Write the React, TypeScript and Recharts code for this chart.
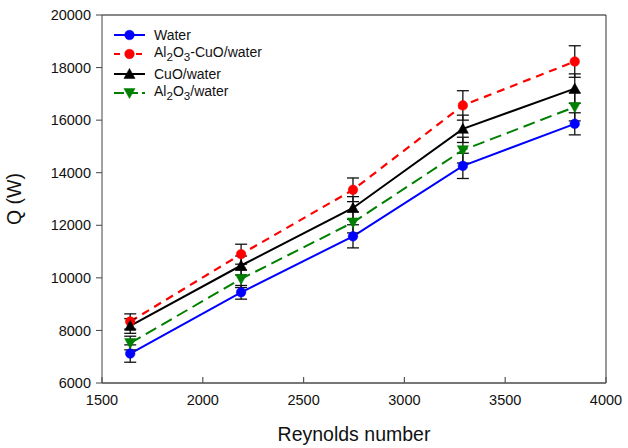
import React from 'react';
import {
  LineChart,
  Line,
  XAxis,
  YAxis,
  ErrorBar,
  ReferenceLine,
  Legend,
} from 'recharts';

// Reynolds numbers of the test runs
const reynolds = [1640, 2190, 2745, 3290, 3845];

// Heat transfer rate Q (W) per fluid
const water = [7120, 9450, 11580, 14260, 15860];
const hybrid = [8340, 10900, 13350, 16560, 18230];
const cuo = [8170, 10470, 12660, 15670, 17200];
const al2o3 = [7520, 9960, 12110, 14860, 16500];

// Measurement uncertainty (± W)
const waterErr = [330, 260, 440, 480, 420];
const hybridErr = [290, 380, 450, 560, 600];
const cuoErr = [280, 360, 430, 520, 560];
const al2o3Err = [260, 330, 400, 490, 530];

const xTicks = [1500, 2000, 2500, 3000, 3500, 4000];
const yTicks = [6000, 8000, 10000, 12000, 14000, 16000, 18000, 20000];

const rows = reynolds.map((re, i) => ({
  re,
  water: water[i],
  waterErr: waterErr[i],
  hybrid: hybrid[i],
  hybridErr: hybridErr[i],
  cuo: cuo[i],
  cuoErr: cuoErr[i],
  al2o3: al2o3[i],
  al2o3Err: al2o3Err[i],
}));

const FONT = 'Liberation Sans, Arial, Helvetica, sans-serif';

type Marker = 'circle' | 'up' | 'down';

const markerShape = (kind: Marker, cx: number, cy: number, color: string, key?: string) => {
  if (kind === 'circle') {
    return <circle key={key} cx={cx} cy={cy} r={4.8} fill={color} stroke={color} strokeWidth={0.5} />;
  }
  const s = 5.6;
  const pts =
    kind === 'up'
      ? `${cx},${cy - s} ${cx - s},${cy + s * 0.8} ${cx + s},${cy + s * 0.8}`
      : `${cx},${cy + s} ${cx - s},${cy - s * 0.8} ${cx + s},${cy - s * 0.8}`;
  return <polygon key={key} points={pts} fill={color} stroke={color} strokeWidth={0.5} />;
};

const makeDot = (kind: Marker, color: string) => (props: any) => {
  const { cx, cy, index } = props;
  if (cx == null || cy == null) return <g key={`n-${index}`} />;
  return markerShape(kind, cx, cy, color, `d-${kind}-${index}`);
};

const XTick = (props: any) => {
  const { x, y, payload } = props;
  return (
    <g>
      <line x1={x} y1={y} x2={x} y2={y - 6} stroke="#555" strokeWidth={1.2} />
      <text x={x} y={y + 22} textAnchor="middle" fontSize={14.5} fill="#111" fontFamily={FONT}>
        {payload.value}
      </text>
    </g>
  );
};

const legendItems: { label: React.ReactNode; color: string; dash?: string; marker: Marker }[] = [
  { label: 'Water', color: '#0000FF', marker: 'circle' },
  {
    label: (
      <>
        Al<sub>2</sub>O<sub>3</sub>-CuO/water
      </>
    ),
    color: '#FF0000',
    dash: '6 5',
    marker: 'circle',
  },
  { label: 'CuO/water', color: '#000000', marker: 'up' },
  {
    label: (
      <>
        Al<sub>2</sub>O<sub>3</sub>/water
      </>
    ),
    color: '#008000',
    dash: '10 4',
    marker: 'down',
  },
];

const renderLegend = () => (
  <div style={{ fontFamily: FONT, fontSize: 14, color: '#111' }}>
    {legendItems.map((it, i) => (
      <div key={i} style={{ display: 'flex', alignItems: 'center', height: 19.5 }}>
        <svg width={40} height={16} style={{ display: 'block' }}>
          <line
            x1={0}
            y1={8}
            x2={31}
            y2={8}
            stroke={it.color}
            strokeWidth={2}
            strokeDasharray={it.dash}
          />
          {markerShape(it.marker, 15.5, 8, it.color)}
        </svg>
        <span style={{ lineHeight: '16px', whiteSpace: 'nowrap' }}>{it.label}</span>
      </div>
    ))}
  </div>
);

export default function App() {
  return (
    <div style={{ position: 'absolute', left: 0, top: 0, width: 628, height: 448, background: '#fff' }}>
      <LineChart
        width={628}
        height={448}
        data={rows}
        margin={{ top: 15, right: 22, bottom: 0, left: 0 }}
        style={{ fontFamily: FONT }}
      >
        <XAxis
          dataKey="re"
          type="number"
          domain={[1500, 4000]}
          ticks={xTicks}
          allowDataOverflow
          height={65}
          tickSize={0}
          tickMargin={0}
          tickLine={false}
          tick={<XTick />}
          axisLine={{ stroke: '#777', strokeWidth: 2 }}
          label={{
            value: 'Reynolds number',
            position: 'insideBottom',
            offset: 7,
            fontSize: 19.5,
            fill: '#111',
          }}
        />
        <YAxis
          type="number"
          domain={[6000, 20000]}
          ticks={yTicks}
          allowDataOverflow
          width={102}
          tickSize={6}
          tickMargin={5}
          tick={{ fontSize: 14.5, fill: '#111' }}
          tickLine={{ stroke: '#444', strokeWidth: 1 }}
          axisLine={{ stroke: '#444', strokeWidth: 1 }}
          label={{
            value: 'Q (W)',
            angle: -90,
            position: 'insideLeft',
            offset: 14,
            fontSize: 19.5,
            fill: '#111',
            style: { textAnchor: 'middle' },
          }}
        />
        <ReferenceLine y={20000} stroke="#888" strokeWidth={2} />
        <ReferenceLine x={4000} stroke="#333" strokeWidth={1} />
        <Legend
          content={renderLegend}
          layout="vertical"
          align="center"
          verticalAlign="middle"
          wrapperStyle={{ position: 'absolute', left: 114, top: 25, width: 'auto', height: 'auto' }}
        />
        <Line
          dataKey="water"
          name="Water"
          stroke="#0000FF"
          strokeWidth={2}
          dot={makeDot('circle', '#0000FF')}
          isAnimationActive={false}
        >
          <ErrorBar dataKey="waterErr" width={6} stroke="#111" strokeWidth={1.3} direction="y" />
        </Line>
        <Line
          dataKey="hybrid"
          name="Al2O3-CuO/water"
          stroke="#FF0000"
          strokeWidth={2.2}
          strokeDasharray="8 6"
          dot={makeDot('circle', '#FF0000')}
          isAnimationActive={false}
        >
          <ErrorBar dataKey="hybridErr" width={6} stroke="#111" strokeWidth={1.3} direction="y" />
        </Line>
        <Line
          dataKey="cuo"
          name="CuO/water"
          stroke="#000000"
          strokeWidth={2}
          dot={makeDot('up', '#000000')}
          isAnimationActive={false}
        >
          <ErrorBar dataKey="cuoErr" width={6} stroke="#111" strokeWidth={1.3} direction="y" />
        </Line>
        <Line
          dataKey="al2o3"
          name="Al2O3/water"
          stroke="#008000"
          strokeWidth={2}
          strokeDasharray="12 6"
          dot={makeDot('down', '#008000')}
          isAnimationActive={false}
        >
          <ErrorBar dataKey="al2o3Err" width={6} stroke="#111" strokeWidth={1.3} direction="y" />
        </Line>
      </LineChart>
    </div>
  );
}
